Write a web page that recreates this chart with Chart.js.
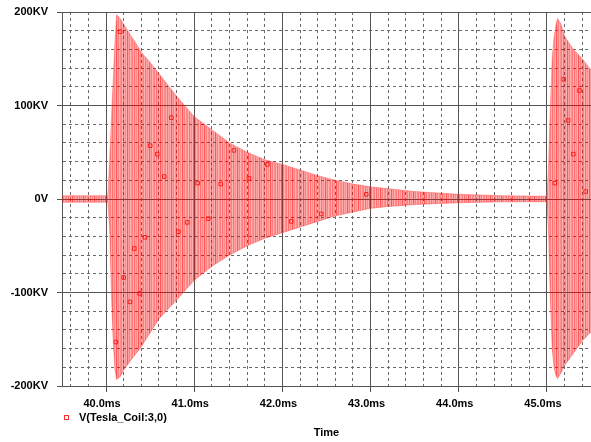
<!DOCTYPE html>
<html>
<head>
<meta charset="utf-8">
<script src="https://cdn.jsdelivr.net/npm/chart.js@4.4.1/dist/chart.umd.min.js"></script>
<style>
html, body { margin: 0; padding: 0; background: #fff; }
</style>
</head>
<body>
<canvas id="chart" width="591" height="442"></canvas>
<script>
"use strict";

// 包絡線の時刻 (ms)
const envTime = [
    39.50, 40.00, 40.02, 40.04, 40.06, 40.08, 40.10, 40.12, 40.16, 40.20,
    40.30, 40.40, 40.50, 40.60, 40.80, 41.00, 41.20, 41.40, 41.60, 41.80,
    42.00, 42.20, 42.40, 42.60, 42.80, 43.00, 43.20, 43.50, 44.00, 44.50,
    45.00, 45.02, 45.04, 45.06, 45.08, 45.10, 45.12, 45.16, 45.20, 45.30,
    45.40, 45.50
];
// 上側の包絡線 (KV)
const envUpper = [
    3.5, 3.5, 4, 40, 85, 125, 167, 197, 193, 187,
    172, 157, 146, 134, 110, 88, 74, 60, 50, 42,
    37, 31, 25, 20, 16, 13, 11, 8, 5, 3.5,
    3, 40, 100, 150, 172, 185, 193, 187, 174, 160,
    150, 138
];
// 下側の包絡線 (KV)
const envLower = [
    -3.5, -3.5, -4, -30, -100, -150, -182, -193, -190, -183,
    -170, -158, -143, -128, -108, -87, -72, -60, -50, -42,
    -36, -30, -24, -18, -14, -10, -8, -6, -4, -3,
    -3, -40, -110, -160, -180, -188, -192, -186, -178, -165,
    -152, -142
];
// トレース上のマーカー
const markerTime = [
    40.16, 40.74, 40.50, 40.58, 40.66, 41.04, 41.30, 41.45, 41.62, 41.83,
    40.11, 40.20, 40.27, 40.32, 40.38, 40.44, 40.82, 40.92, 41.16, 42.10,
    42.44, 42.95, 45.19, 45.24, 45.37, 45.30, 45.09, 45.44
];
const markerValue = [
    179, 87, 57, 48, 24, 17, 16, 52, 22, 37,
    -153, -84, -110, -53, -101, -41, -35, -25, -21, -24,
    -16, 5, 128, 84, 116, 48, 17, 8
];
// 軸ラベル
const xLabelValues = [40, 41, 42, 43, 44, 45];
const xLabelTexts = ['40.0ms', '41.0ms', '42.0ms', '43.0ms', '44.0ms', '45.0ms'];
const yLabelValues = [200, 100, 0, -100, -200];
const yLabelTexts = ['200KV', '100KV', '0V', '-100KV', '-200KV'];
const seriesName = 'V(Tesla_Coil:3,0)';

const X_MIN = 39.5, X_MAX = 45.5, X_STEP = 0.2;
const FONT = { family: '"Liberation Sans", Arial, sans-serif', size: 11, weight: 'bold' };

const isMajor = (v, step) => Math.abs(v / step - Math.round(v / step)) < 1e-6;

// 縦線の縞模様 (波形の密な振動を表現)
function stripePattern(ctx) {
    const alphas = [0.50, 0.30, 0.56, 0.36, 0.46, 0.32, 0.66, 0.38, 0.50, 0.30, 0.44];
    const c = document.createElement('canvas');
    c.width = alphas.length;
    c.height = 1;
    const g = c.getContext('2d');
    alphas.forEach((a, i) => {
        g.fillStyle = `rgba(255,0,0,${a})`;
        g.fillRect(i, 0, 1, 1);
    });
    return ctx.createPattern(c, 'repeat');
}

// 凡例 (プロット下)
const legendPlugin = {
    id: 'pspiceLegend',
    afterDraw(chart) {
        const ctx = chart.ctx;
        ctx.save();
        ctx.strokeStyle = '#ff3030';
        ctx.lineWidth = 1;
        ctx.strokeRect(64.5, 415.5, 4, 4);
        ctx.fillStyle = '#000';
        ctx.font = `bold ${FONT.size}px ${FONT.family}`;
        ctx.textBaseline = 'middle';
        ctx.fillText(seriesName, 79, 418);
        ctx.restore();
    }
};

const canvas = document.getElementById('chart');
const pattern = stripePattern(canvas.getContext('2d'));

const gridX = {
    color: c => (c.tick && isMajor(c.tick.value, 1) ? '#555' : '#6a6a6a'),
    tickColor: c => (c.tick && isMajor(c.tick.value, 1) ? '#555' : 'rgba(0,0,0,0)'),
    tickLength: 6,
    lineWidth: 1
};
const gridY = {
    color: c => (c.tick && isMajor(c.tick.value, 100) ? '#555' : '#6a6a6a'),
    tickColor: c => (c.tick && isMajor(c.tick.value, 100) ? '#555' : 'rgba(0,0,0,0)'),
    tickLength: 5,
    lineWidth: 1
};

new Chart(canvas, {
    type: 'line',
    data: {
        datasets: [
            {
                label: seriesName,
                data: envTime.map((t, i) => ({ x: t, y: envUpper[i] })),
                borderColor: 'rgba(255,80,80,0.45)',
                borderWidth: 1,
                backgroundColor: pattern,
                fill: '+1',
                pointRadius: 0,
                tension: 0
            },
            {
                label: seriesName + ' lower',
                data: envTime.map((t, i) => ({ x: t, y: envLower[i] })),
                borderColor: 'rgba(255,80,80,0.45)',
                borderWidth: 1,
                fill: false,
                pointRadius: 0,
                tension: 0
            },
            {
                type: 'scatter',
                label: seriesName + ' markers',
                data: markerTime.map((t, i) => ({ x: t, y: markerValue[i] })),
                showLine: false,
                pointStyle: 'rect',
                pointRadius: 2.5,
                borderColor: '#ff3030',
                borderWidth: 1,
                backgroundColor: 'rgba(0,0,0,0)'
            }
        ]
    },
    options: {
        responsive: false,
        animation: false,
        // 右端はキャンバスの縁まで
        layout: { autoPadding: false, padding: { top: 12, right: 0, bottom: 0, left: 0 } },
        plugins: {
            legend: { display: false },
            tooltip: { enabled: false }
        },
        scales: {
            x: {
                type: 'linear',
                min: X_MIN,
                max: X_MAX,
                afterFit: s => {
                    s.height = 56;
                    s.paddingLeft = 0;
                    s.paddingRight = 0;
                },
                // 0.2ms 毎のグリッド (両端は枠線と重なるので除く)
                afterBuildTicks: s => {
                    const ticks = [];
                    for (let k = Math.ceil(X_MIN / X_STEP + 1e-9); k * X_STEP < X_MAX - 1e-9; k++) {
                        ticks.push({ value: Math.round(k * X_STEP * 10) / 10 });
                    }
                    s.ticks = ticks;
                },
                grid: gridX,
                border: {
                    display: true,
                    color: '#555',
                    dash: c => (c.tick && !isMajor(c.tick.value, 1) ? [3, 3] : [])
                },
                ticks: {
                    autoSkip: false,
                    maxRotation: 0,
                    padding: 5,
                    labelOffset: -4,
                    color: '#000',
                    font: FONT,
                    callback: v => {
                        const i = xLabelValues.findIndex(x => Math.abs(x - v) < 1e-6);
                        return i >= 0 ? xLabelTexts[i] : '';
                    }
                },
                title: {
                    display: true,
                    text: 'Time',
                    color: '#000',
                    font: FONT,
                    padding: { top: 0, bottom: 2 }
                }
            },
            y: {
                type: 'linear',
                min: -200,
                max: 200,
                afterFit: s => {
                    s.width = 62;
                    s.paddingTop = 0;
                    s.paddingBottom = 0;
                },
                grid: gridY,
                border: {
                    display: true,
                    color: '#555',
                    dash: c => (c.tick && !isMajor(c.tick.value, 100) ? [3, 3] : [])
                },
                ticks: {
                    stepSize: 20,
                    autoSkip: false,
                    padding: 9,
                    color: '#000',
                    font: FONT,
                    callback: v => {
                        const i = yLabelValues.findIndex(y => Math.abs(y - v) < 1e-6);
                        return i >= 0 ? yLabelTexts[i] : '';
                    }
                }
            }
        }
    },
    plugins: [legendPlugin]
});
</script>
</body>
</html>
